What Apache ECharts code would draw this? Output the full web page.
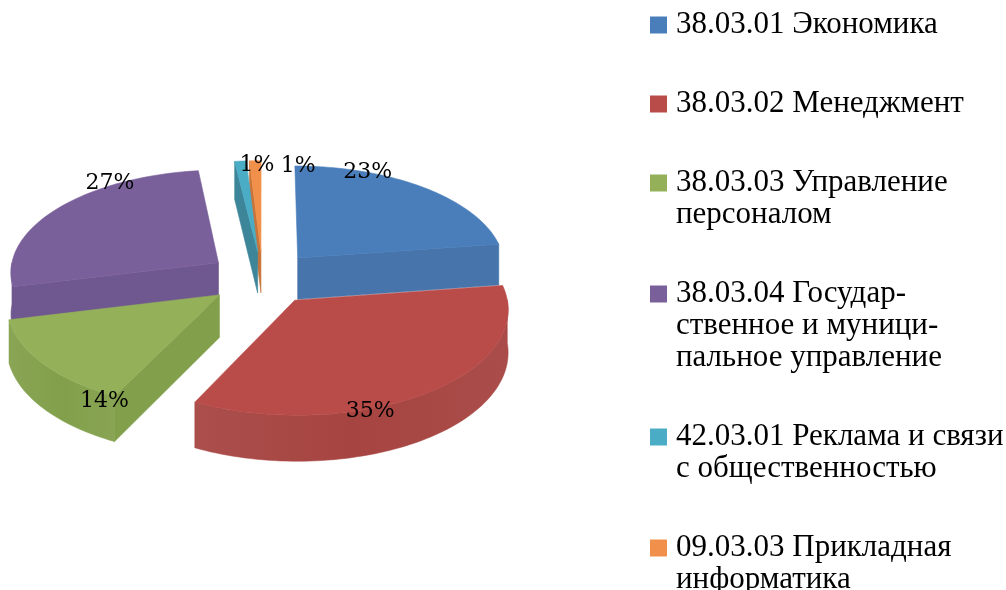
<!DOCTYPE html>
<html><head><meta charset="utf-8">
<script src="https://cdn.jsdelivr.net/npm/echarts@6/dist/echarts.min.js"></script>
<style>html,body{margin:0;padding:0;background:#fff}#c{width:1006px;height:590px}</style>
</head><body><div id="c"></div>
<script>
const categories = [
  '38.03.01 Экономика',
  '38.03.02 Менеджмент',
  '38.03.03 Управление персоналом',
  '38.03.04 Государственное и муниципальное управление',
  '42.03.01 Реклама и связи с общественностью',
  '09.03.03 Прикладная информатика'
];
const legendLabels = [
  '38.03.01 Экономика',
  '38.03.02 Менеджмент',
  '38.03.03 Управление\nперсоналом',
  '38.03.04 Государ-\nственное и муници-\nпальное управление',
  '42.03.01 Реклама и связи\nс общественностью',
  '09.03.03 Прикладная\nинформатика'
];
const values = [23, 35, 14, 27, 1, 1];

const topColors  = ['#4A7EBB', '#B94C49', '#94B15A', '#7A609A', '#4BACC6', '#F0904A'];
const sideColors = ['#4674AB', '#A64441', '#82A04B', '#6F588F', '#3D8599', '#C8733A'];

const GEO = { cx: 262.6, cy: 278, R: 209, Ry: 103.4, depth: 42, persp: 0.079, explode: 0.26 };
// label placement: [angle shift from bisector (deg), radius factor]
const LABEL_LAYOUT = [[-18.6, 1.0], [17.4, 1.02], [-24, 1.06], [21, 1.03], [5, 0.94], [13.6, 0.955]];
const LINE_H = 32, ITEM_GAP = 79;

const RAD = Math.PI / 180;
const total = values.reduce((a, b) => a + b, 0);
const starts = []; let acc = 0;
values.forEach(v => { starts.push(acc / total * 360); acc += v; });
const spans = values.map(v => v / total * 360);
const bisect = values.map((v, i) => starts[i] + spans[i] / 2);
const order = values.map((v, i) => i).sort((a, b) => (-Math.cos(bisect[a] * RAD)) - (-Math.cos(bisect[b] * RAD)));
const rank = []; order.forEach((idx, r) => { rank[idx] = r; });

function proj(theta, r, h, ex, ez) {
  const t = theta * RAD;
  const px = r * Math.sin(t) + ex, pz = -r * Math.cos(t) + ez;
  const k = 1 + GEO.persp * pz;
  return [GEO.cx + GEO.R * px * k, GEO.cy + GEO.Ry * pz * k + GEO.depth * h * k];
}
function arc(a0, a1, h, ex, ez) {
  const pts = []; const n = Math.max(2, Math.ceil((a1 - a0) / 1.5));
  for (let j = 0; j <= n; j++) pts.push(proj(a0 + (a1 - a0) * j / n, 1, h, ex, ez));
  return pts;
}

function makeRender(i) {
  return function (params, api) {
    const v = api.value(0);
    const a0 = starts[i], a1 = a0 + v / total * 360;
    const b = (a0 + a1) / 2;
    const ex = GEO.explode * Math.sin(b * RAD), ez = -GEO.explode * Math.cos(b * RAD);
    const zb = rank[i] * 10;
    const children = [];
    const poly = (points, fill, z2) => ({
      type: 'polygon', shape: { points }, z2,
      style: { fill, stroke: fill, lineWidth: 0.6 }
    });
    const cut = (a) => [proj(a, 0, 0, ex, ez), proj(a, 1, 0, ex, ez), proj(a, 1, 1, ex, ez), proj(a, 0, 1, ex, ez)];
    if (Math.sin(a0 * RAD) < -1e-6) children.push(poly(cut(a0), sideColors[i], zb + 1));
    if (Math.sin(a1 * RAD) > 1e-6) children.push(poly(cut(a1), sideColors[i], zb + 1));
    const w0 = Math.max(a0, 90), w1 = Math.min(a1, 270);
    if (w1 > w0) {
      const pts = arc(w0, w1, 0, ex, ez).concat(arc(w0, w1, 1, ex, ez).reverse());
      const grad = new echarts.graphic.LinearGradient(0, 0, 1, 0, [
        { offset: 0, color: echarts.color.lift(sideColors[i], 0.06) },
        { offset: 0.5, color: sideColors[i] },
        { offset: 1, color: echarts.color.lift(sideColors[i], 0.05) }
      ]);
      children.push({ type: 'polygon', shape: { points: pts }, z2: zb + 2,
        style: { fill: grad, stroke: sideColors[i], lineWidth: 0.5 } });
    }
    const top = [proj(a0, 0, 0, ex, ez)].concat(arc(a0, a1, 0, ex, ez));
    children.push(poly(top, topColors[i], zb + 3));
    const lay = LABEL_LAYOUT[i];
    const lp = proj(b + lay[0], lay[1], 0, ex, ez);
    children.push({
      type: 'text', x: lp[0], y: lp[1], z2: 1000 + i,
      style: { text: Math.round(v / total * 100) + '%', font: '22px "DejaVu Serif"', fill: '#000',
        align: 'center', verticalAlign: 'middle' }
    });
    return { type: 'group', children };
  };
}

const firstLineY = []; let yy = 25;
legendLabels.forEach(t => { firstLineY.push(yy); yy += (t.split('\n').length - 1) * LINE_H + ITEM_GAP; });

const option = {
  backgroundColor: '#fff',
  animation: false,
  legend: categories.map((name, i) => {
    const n = legendLabels[i].split('\n').length;
    return {
      data: [name], orient: 'vertical', left: 650, top: firstLineY[i] - (2 * n - 1) * LINE_H / 2,
      padding: 0, itemWidth: 17, itemHeight: 17, icon: 'rect', selectedMode: false,
      // blank lines above keep the colour box level with the first line of text
      formatter: () => '\n'.repeat(n - 1) + legendLabels[i],
      textStyle: { fontFamily: 'Liberation Serif', fontSize: 31, color: '#000', lineHeight: LINE_H,
        padding: [0, 0, 0, 4] }
    };
  }),
  series: categories.map((name, i) => ({
    type: 'custom', name, coordinateSystem: 'none',
    itemStyle: { color: topColors[i] },
    data: [[values[i]]],
    renderItem: makeRender(i)
  }))
};
echarts.init(document.getElementById('c')).setOption(option);
</script></body></html>
